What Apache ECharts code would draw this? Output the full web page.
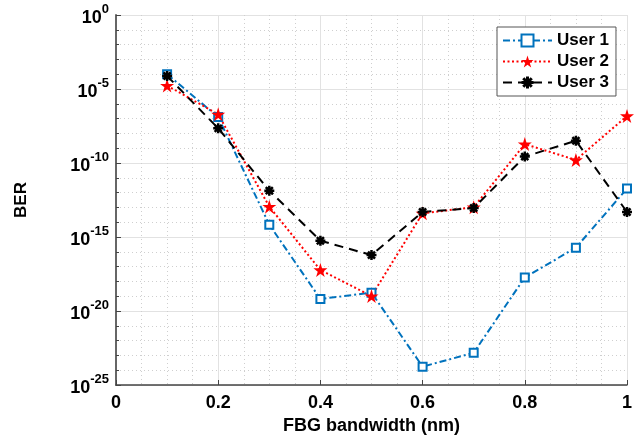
<!DOCTYPE html>
<html>
<head>
<meta charset="utf-8">
<script src="https://cdn.jsdelivr.net/npm/echarts@6/dist/echarts.min.js"></script>
<style>html,body{margin:0;padding:0;background:#fff}#c{width:641px;height:444px}</style>
</head>
<body>
<div id="c"></div>
<script>
var bandwidth = [0.1, 0.2, 0.3, 0.4, 0.5, 0.6, 0.7, 0.8, 0.9, 1.0];
var user1 = [1.0e-4, 1.26e-7, 6.8e-15, 6.5e-20, 1.74e-19, 1.74e-24, 1.5e-23, 1.86e-18, 1.9e-16, 1.86e-12];
var user2 = [1.7e-5, 1.95e-7, 1.12e-13, 5.9e-18, 1.02e-19, 4.0e-14, 1.02e-13, 1.9e-9, 1.6e-10, 1.5e-7];
var user3 = [7.6e-5, 2.2e-8, 1.35e-12, 5.6e-16, 6.0e-17, 4.9e-14, 9.1e-14, 2.7e-10, 3.2e-9, 4.9e-14];
var seriesNames = ['User 1', 'User 2', 'User 3'];

var FONT = 'Liberation Sans, Arial, Helvetica, sans-serif';
var starPath = 'path://M0,-1 L0.2245,-0.309 L0.951,-0.309 L0.363,0.118 L0.588,0.809 L0,0.382 L-0.588,0.809 L-0.363,0.118 L-0.951,-0.309 L-0.2245,-0.309 Z';
var asteriskPath = 'path://M-1,-0.25 L1,-0.25 L1,0.25 L-1,0.25 Z M-0.25,-1 L0.25,-1 L0.25,1 L-0.25,1 Z ' +
  'M0.530,0.884 L-0.884,-0.530 L-0.530,-0.884 L0.884,0.530 Z M0.884,-0.530 L-0.530,0.884 L-0.884,0.530 L0.530,-0.884 Z';

function toPts(arr) {
  return arr.map(function (v, i) { return [bandwidth[i], Math.log10(v)]; });
}

var chart = echarts.init(document.getElementById('c'), null, {renderer: 'canvas'});
chart.setOption({
  animation: false,
  backgroundColor: '#fff',
  grid: {left: 116, right: 14, top: 15, bottom: 59, containLabel: false},
  legend: {
    orient: 'vertical',
    left: 497, top: 27,
    padding: [5, 7, 5, 5],
    itemGap: 4,
    itemWidth: 49,
    itemHeight: 15,
    backgroundColor: '#fff',
    borderColor: '#555',
    borderWidth: 1,
    borderRadius: 0,
    textStyle: {fontFamily: FONT, fontWeight: 'bold', fontSize: 17, color: '#000'},
    data: seriesNames
  },
  xAxis: {
    type: 'value', min: 0, max: 1, interval: 0.2,
    name: 'FBG bandwidth (nm)', nameLocation: 'middle', nameGap: 31,
    nameTextStyle: {fontFamily: FONT, fontWeight: 'bold', fontSize: 18, color: '#000'},
    axisLine: {show: true, onZero: false, lineStyle: {color: '#444', width: 1.5}},
    axisTick: {show: true, inside: true, length: 5, lineStyle: {color: '#444'}},
    minorTick: {show: false, splitNumber: 4},
    axisLabel: {fontFamily: FONT, fontWeight: 'bold', fontSize: 18, color: '#000', margin: 9},
    splitLine: {show: true, lineStyle: {color: '#e2e2e2', width: 1}},
    minorSplitLine: {show: true, lineStyle: {color: '#cfcfcf', type: [1, 3], width: 1}}
  },
  yAxis: {
    type: 'value', min: -25, max: 0, interval: 5,
    name: 'BER', nameLocation: 'middle', nameGap: 86, nameRotate: 90,
    nameTextStyle: {fontFamily: FONT, fontWeight: 'bold', fontSize: 17, color: '#000'},
    axisLine: {show: true, onZero: false, lineStyle: {color: '#666', width: 2}},
    axisTick: {show: true, inside: true, length: 5, lineStyle: {color: '#444'}},
    minorTick: {show: true, splitNumber: 5, length: 3, lineStyle: {color: '#444'}},
    axisLabel: {
      margin: 7,
      formatter: function (v) { return '{b|10}{s|' + v + '}'; },
      rich: {
        b: {fontFamily: FONT, fontWeight: 'bold', fontSize: 18, color: '#000', lineHeight: 24, verticalAlign: 'bottom'},
        s: {fontFamily: FONT, fontWeight: 'bold', fontSize: 13, color: '#000', lineHeight: 13, verticalAlign: 'top'}
      }
    },
    splitLine: {show: true, lineStyle: {color: '#e2e2e2', width: 1}},
    minorSplitLine: {show: true, lineStyle: {color: '#cfcfcf', type: [1, 3], width: 1}}
  },
  series: [
    {
      name: seriesNames[0], type: 'line', data: toPts(user1),
      symbol: 'rect', symbolSize: 8,
      lineStyle: {color: '#0072BD', width: 2, type: [7, 3, 2, 3]},
      itemStyle: {color: '#ffffff', borderColor: '#0072BD', borderWidth: 2}
    },
    {
      name: seriesNames[1], type: 'line', data: toPts(user2),
      symbol: starPath, symbolSize: 14,
      lineStyle: {color: '#FF0000', width: 2, type: [2, 2.5]},
      itemStyle: {color: '#FF0000', borderWidth: 0}
    },
    {
      name: seriesNames[2], type: 'line', data: toPts(user3),
      symbol: asteriskPath, symbolSize: 10,
      lineStyle: {color: '#000000', width: 2, type: [9, 6]},
      itemStyle: {color: '#000000', borderWidth: 0}
    }
  ]
});
</script>
</body>
</html>
